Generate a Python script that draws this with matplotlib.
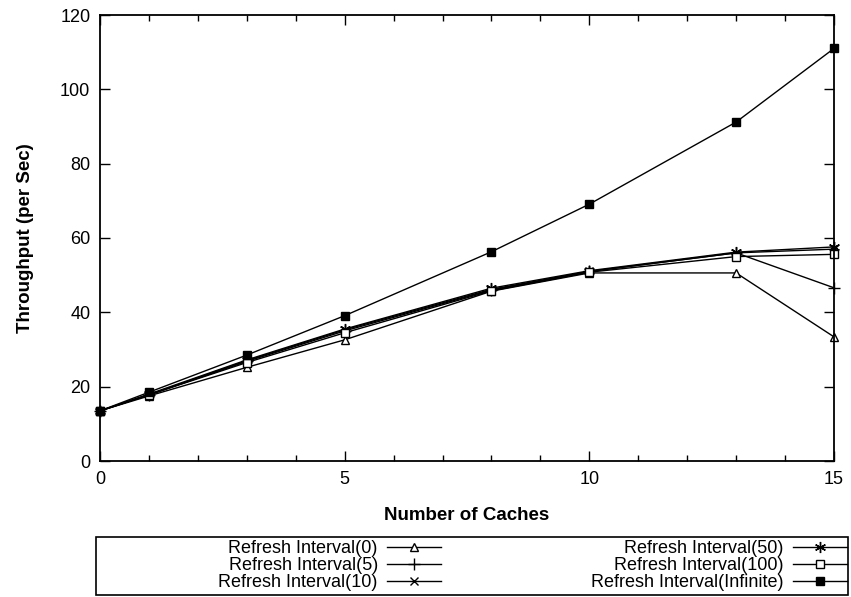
import matplotlib
matplotlib.use("Agg")
import matplotlib.pyplot as plt
from matplotlib.patches import Rectangle
from matplotlib.ticker import MultipleLocator

plt.rcParams['font.family'] = ['Liberation Sans', 'DejaVu Sans']

caches = [0, 1, 3, 5, 8, 10, 13, 15]
labels = ["Refresh Interval(0)", "Refresh Interval(5)", "Refresh Interval(10)",
          "Refresh Interval(50)", "Refresh Interval(100)", "Refresh Interval(Infinite)"]
r0 = [13.5, 17.5, 25.2, 32.6, 45.7, 50.6, 50.6, 33.4]
r5 = [13.5, 17.8, 26.8, 35.0, 46.0, 51.0, 56.0, 46.6]
r10 = [13.5, 17.8, 27.0, 35.3, 46.2, 51.0, 56.0, 57.0]
r50 = [13.5, 18.0, 27.2, 35.5, 46.5, 51.2, 56.2, 57.6]
r100 = [13.5, 17.8, 26.5, 34.5, 45.8, 50.8, 55.0, 55.6]
rinf = [13.5, 18.5, 28.5, 39.1, 56.3, 69.1, 91.2, 111.0]
series = [r0, r5, r10, r50, r100, rinf]

markers = [dict(marker='^', mfc='white', ms=6),
           dict(marker='+', ms=8),
           dict(marker='x', ms=6),
           dict(marker=(6, 2, 0), ms=8),
           dict(marker='s', mfc='white', ms=5.5),
           dict(marker='s', mfc='black', ms=6)]

fig = plt.figure(figsize=(8.51, 5.97), dpi=100)
ax = fig.add_axes([100/851, 1-461/597, (834-100)/851, (461-15)/597])

handles = []
for ys, lab, mk in zip(series, labels, markers):
    h, = ax.plot(caches, ys, color='black', lw=1.0, mec='black', mew=1.0,
                 label=lab, clip_on=False, **mk)
    handles.append(h)

ax.set_xlim(0, 15)
ax.set_ylim(0, 120)
ax.xaxis.set_major_locator(MultipleLocator(5))
ax.xaxis.set_minor_locator(MultipleLocator(1))
ax.yaxis.set_major_locator(MultipleLocator(20))
ax.tick_params(which='both', direction='in', top=True, right=True, labelsize=13, width=1)
ax.tick_params(which='major', length=7, pad=7)
ax.tick_params(which='minor', length=4)
for sp in ax.spines.values():
    sp.set_linewidth(1.3)

ax.set_xlabel("Number of Caches", fontsize=13.5, fontweight='bold', labelpad=14)
ax.set_ylabel("Throughput (per Sec)", fontsize=13.5, fontweight='bold', labelpad=19)

# legend frame
fig.patches.append(Rectangle((96/851, 2/597), (848-96)/851, (595-537)/597,
                             transform=fig.transFigure, fill=False, lw=1.2, ec='black'))

common = dict(frameon=False, markerfirst=False, fontsize=13, handlelength=3.0,
              labelspacing=0.0, handletextpad=0.5, borderaxespad=0, borderpad=0)
leg1 = fig.legend(handles[:3], labels[:3], loc='upper right',
                  bbox_to_anchor=(441/851, 1-540/597), **common)
leg2 = fig.legend(handles[3:], labels[3:], loc='upper right',
                  bbox_to_anchor=(847/851, 1-540/597), **common)

fig.savefig("out.png", dpi=100)
